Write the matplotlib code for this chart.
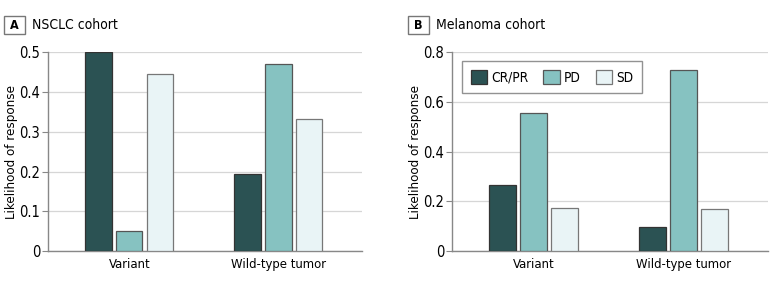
import numpy as np
import matplotlib.pyplot as plt
from matplotlib.patches import Rectangle
from matplotlib import font_manager

# fuente condensada si existe
condensadas = [f for f in font_manager.fontManager.ttflist
               if f.stretch in ("condensed", "semi-condensed", 87.5, 75)
               or "Condensed" in f.fname or "Narrow" in f.fname]
if condensadas:
    fuente = condensadas[0].name
    plt.rcParams['font.stretch'] = 'condensed'
else:
    fuente = "Roboto"
plt.rcParams['font.family'] = [fuente, 'DejaVu Sans']

# -----------------------------
# Datos
# -----------------------------
grupos = ["Variant", "Wild-type tumor"]
respuestas = ["CR/PR", "PD", "SD"]

nsclc_cr = [0.50, 0.194]
nsclc_pd = [0.05, 0.47]
nsclc_sd = [0.447, 0.332]

mel_cr = [0.264, 0.095]
mel_pd = [0.557, 0.731]
mel_sd = [0.172, 0.170]

colores = ["#2b5253", "#86c2c1", "#e9f4f6"]
bordes = ["#333333", "#555555", "#777777"]


def dibujar(ax, series, ymax, paso, etiqueta, titulo, xcaja, xlab):
    x = np.arange(len(grupos))
    ancho = 0.178
    sep = 0.207
    for i, vals in enumerate(series):
        ax.bar(x + (i - 1) * sep, vals, ancho, color=colores[i],
               edgecolor=bordes[i], linewidth=0.9, label=respuestas[i], zorder=3)
    ax.set_xlim(-0.545, 1.562)
    ax.set_ylim(0, ymax)
    ticks = np.arange(0, ymax + 1e-9, paso)
    ax.set_yticks(ticks)
    ax.set_yticklabels(["0"] + ["{:.1f}".format(t) for t in ticks[1:]])
    ax.set_xticks(x)
    ax.set_xticklabels(grupos)
    ax.tick_params(axis="x", length=0, pad=5, labelsize=9.4)
    ax.tick_params(axis="y", length=4, color="#888888", pad=1.5, labelsize=10.5)
    ax.yaxis.grid(True, color="#d6d6d6", linewidth=0.9, zorder=0)
    for s in ["top", "right"]:
        ax.spines[s].set_visible(False)
    for s in ["left", "bottom"]:
        ax.spines[s].set_color("#888888")
        ax.spines[s].set_linewidth(1.0)
    ax.set_ylabel("Likelihood of response", fontsize=9.5)
    ax.yaxis.set_label_coords(xlab, 0.5)

    # etiqueta del panel
    fig = ax.figure
    fig.patches.append(Rectangle((xcaja, 0.882), 0.027, 0.062, transform=fig.transFigure,
                                 facecolor="white", edgecolor="#777777", linewidth=1.0))
    fig.text(xcaja + 0.0135, 0.912, etiqueta, ha="center", va="center",
             fontsize=9, fontweight="bold")
    fig.text(xcaja + 0.036, 0.912, titulo, ha="left", va="center", fontsize=10)


fig = plt.figure(figsize=(7.8, 2.85), dpi=100)
ax1 = fig.add_axes([48 / 780, 0.1193, 314 / 780, 0.6965])
ax2 = fig.add_axes([452 / 780, 0.1193, 316 / 780, 0.6965])

dibujar(ax1, [nsclc_cr, nsclc_pd, nsclc_sd], 0.5, 0.1, "A", "NSCLC cohort", 4 / 780, -0.097)
dibujar(ax2, [mel_cr, mel_pd, mel_sd], 0.8, 0.2, "B", "Melanoma cohort", 408 / 780, -0.094)

leg = ax2.legend(loc="upper left", bbox_to_anchor=(0.032, 0.955), ncol=3,
                 frameon=True, fancybox=False, fontsize=9.8, handlelength=1.2,
                 handleheight=1.15, columnspacing=1.1, handletextpad=0.3,
                 borderpad=0.65, borderaxespad=0)
leg.get_frame().set_edgecolor("#777777")
leg.get_frame().set_linewidth(1.0)

fig.savefig("out.png", dpi=100)
